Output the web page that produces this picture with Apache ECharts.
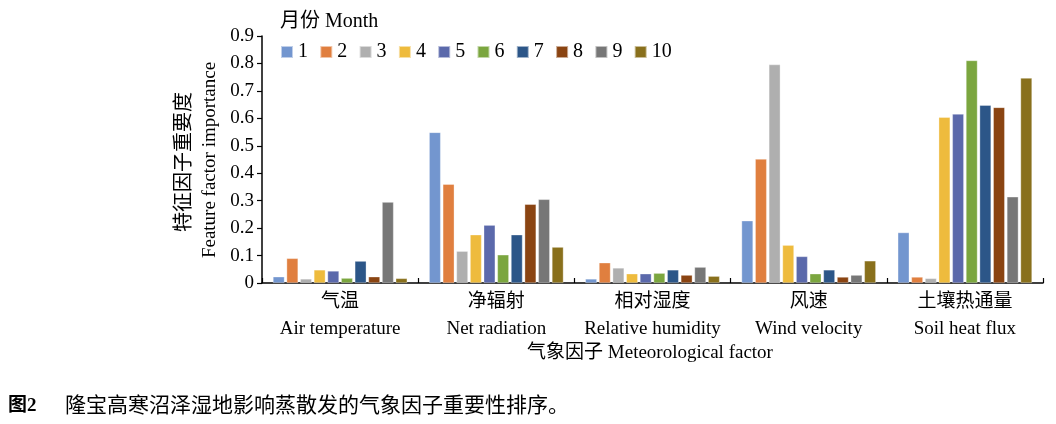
<!DOCTYPE html>
<html>
<head>
<meta charset="utf-8">
<script src="https://cdn.jsdelivr.net/npm/echarts@6/dist/echarts.min.js"></script>
<style>
html,body{margin:0;padding:0;background:#fff;}
#c{width:1056px;height:424px;}
</style>
</head>
<body>
<div id="c"></div>
<script>
const categoriesCN = ['气温', '净辐射', '相对湿度', '风速', '土壤热通量'];
const categoriesEN = ['Air temperature', 'Net radiation', 'Relative humidity', 'Wind velocity', 'Soil heat flux'];
const months = ['1', '2', '3', '4', '5', '6', '7', '8', '9', '10'];
// importance per month, ordered by category
const m1 = [0.023, 0.549, 0.015, 0.227, 0.184];
const m2 = [0.090, 0.360, 0.074, 0.452, 0.022];
const m3 = [0.015, 0.116, 0.055, 0.796, 0.017];
const m4 = [0.048, 0.176, 0.034, 0.138, 0.604];
const m5 = [0.044, 0.211, 0.034, 0.097, 0.616];
const m6 = [0.018, 0.103, 0.036, 0.034, 0.811];
const m7 = [0.080, 0.176, 0.048, 0.048, 0.648];
const m8 = [0.023, 0.287, 0.029, 0.022, 0.640];
const m9 = [0.295, 0.305, 0.058, 0.029, 0.314];
const m10 = [0.017, 0.131, 0.025, 0.081, 0.747];
const seriesValues = [m1, m2, m3, m4, m5, m6, m7, m8, m9, m10];
const yTicks = [0, 0.1, 0.2, 0.3, 0.4, 0.5, 0.6, 0.7, 0.8, 0.9];

const colors = ['#7396CF', '#E07F3F', '#AFAFAF', '#EEBB3D', '#5B69AB', '#7BA63F', '#2C5688', '#8A4412', '#777777', '#89701C'];
const FONT = '"Liberation Serif", "Times New Roman", "Noto Sans CJK SC", serif';

const chart = echarts.init(document.getElementById('c'), null, {renderer: 'canvas'});
const option = {
  backgroundColor: '#ffffff',
  color: colors,
  animation: false,
  title: {
    text: '月份 Month',
    left: 275, top: 7,
    textStyle: {fontFamily: FONT, fontSize: 20, fontWeight: 'normal', color: '#000'}
  },
  legend: {
    data: months,
    left: 275, top: 37,
    icon: 'rect', itemWidth: 12, itemHeight: 12, itemGap: 11.3,
    textStyle: {fontFamily: FONT, fontSize: 20, color: '#000'}
  },
  grid: {left: 262, right: 13, top: 36, bottom: 141, containLabel: false},
  xAxis: {
    type: 'category',
    data: categoriesCN.map((c, i) => c + '\n' + categoriesEN[i]),
    axisLine: {lineStyle: {color: '#000', width: 1.5}},
    axisTick: {show: true, inside: true, length: 5, lineStyle: {color: '#000', width: 1.2}},
    axisLabel: {fontFamily: FONT, fontSize: 19, color: '#000', lineHeight: 27, margin: 6, interval: 0}
  },
  yAxis: {
    type: 'value', min: 0, max: 0.9, interval: 0.1,
    axisLine: {show: true, lineStyle: {color: '#000', width: 1.5}},
    axisTick: {show: true, inside: false, length: 5, lineStyle: {color: '#000', width: 1.2}},
    splitLine: {show: false},
    axisLabel: {fontFamily: FONT, fontSize: 19, color: '#000', margin: 8,
      formatter: v => { const t = yTicks.find(x => Math.abs(x - v) < 1e-6); return t === undefined ? '' : String(t); }}
  },
  series: seriesValues.map((vals, i) => ({
    name: months[i],
    type: 'bar',
    data: vals,
    barGap: '18%',
    barCategoryGap: '14%',
    itemStyle: {borderColor: 'rgba(255,255,255,0.55)', borderWidth: 0.6}
  })),
  graphic: [
    {type: 'text', rotation: Math.PI / 2, x: 185, y: 162,
      style: {text: '特征因子重要度', font: '20px ' + FONT, fill: '#000', textAlign: 'center', textVerticalAlign: 'middle'}},
    {type: 'text', rotation: Math.PI / 2, x: 210, y: 160,
      style: {text: 'Feature factor importance', font: '19px ' + FONT, fill: '#000', textAlign: 'center', textVerticalAlign: 'middle'}},
    {type: 'text', x: 650, y: 353,
      style: {text: '气象因子 Meteorological factor', font: '19px ' + FONT, fill: '#000', textAlign: 'center', textVerticalAlign: 'middle'}},
    {type: 'text', x: 8, y: 406,
      style: {text: '图2', font: 'bold 19px ' + FONT, fill: '#000', textAlign: 'left', textVerticalAlign: 'middle'}},
    {type: 'text', x: 65, y: 406,
      style: {text: '隆宝高寒沼泽湿地影响蒸散发的气象因子重要性排序。', font: '21px ' + FONT, fill: '#000', textAlign: 'left', textVerticalAlign: 'middle'}}
  ]
};
chart.setOption(option);
</script>
</body>
</html>
